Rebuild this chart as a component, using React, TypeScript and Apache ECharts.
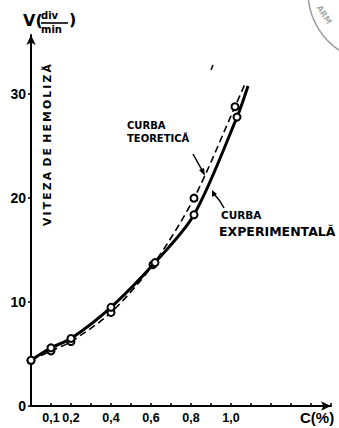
import React, { useEffect, useRef } from "react";
import * as echarts from "echarts";

const experimentalC = [0, 0.1, 0.2, 0.4, 0.62, 0.815, 1.03, 1.085];
const experimentalV = [4.4, 5.6, 6.5, 9.5, 13.8, 18.4, 27.8, 30.8];
const theoreticalC = [0, 0.1, 0.2, 0.4, 0.61, 0.815, 1.02, 1.07];
const theoreticalV = [4.4, 5.3, 6.2, 9.0, 13.6, 20.0, 28.8, 31.0];
const xTickLabels = ["0,1", "0,2", "0,4", "0,6", "0,8", "1,0"];
const xTickValues = [0.1, 0.2, 0.4, 0.6, 0.8, 1.0];
const yTickValues = [0, 10, 20, 30];

const FONT = "'Liberation Sans', Arial, sans-serif";
const WIDE = "'DejaVu Sans', sans-serif";

function buildData(cs: number[], vs: number[]) {
  return cs.map((c, i) =>
    i === cs.length - 1
      ? { value: [c, vs[i]], symbol: "none" }
      : { value: [c, vs[i]] }
  );
}

export default function App() {
  const ref = useRef<HTMLDivElement>(null);
  useEffect(() => {
    document.body.style.margin = "0";
    const chart = echarts.init(ref.current!, null, { renderer: "svg" });
    const txt = (x: number, y: number, t: string, size: number, extra: any = {}) => ({
      type: "text",
      x,
      y,
      style: {
        text: t,
        fontSize: size,
        fontWeight: "bold",
        fontFamily: WIDE,
        fill: "#000",
        ...extra,
      },
    });
    chart.setOption({
      animation: false,
      backgroundColor: "#fff",
      grid: { left: 31, right: 8, top: 35, bottom: 22 },
      xAxis: {
        type: "value",
        min: 0,
        max: 1.5,
        interval: 0.1,
        splitLine: { show: false },
        axisLine: {
          lineStyle: { color: "#000", width: 2 },
          symbol: ["none", "arrow"],
          symbolSize: [7, 10],
        },
        axisTick: { inside: true, length: 3, lineStyle: { color: "#000", width: 1.5 } },
        axisLabel: {
          margin: 5,
          color: "#000",
          fontSize: 12.5,
          fontWeight: "bold",
          fontFamily: FONT,
          formatter: (v: number) => {
            const idx = xTickValues.findIndex((t) => Math.abs(t - v) < 1e-6);
            return idx >= 0 ? xTickLabels[idx] : "";
          },
        },
      },
      yAxis: {
        type: "value",
        min: 0,
        max: 35.7,
        interval: 10,
        splitLine: { show: false },
        axisLine: {
          lineStyle: { color: "#000", width: 2 },
          symbol: ["none", "arrow"],
          symbolSize: [7, 10],
        },
        axisTick: { length: 3, lineStyle: { color: "#000", width: 1.5 } },
        axisLabel: {
          margin: 5,
          color: "#000",
          fontSize: 14,
          fontWeight: "bold",
          fontFamily: FONT,
          showMaxLabel: false,
          formatter: (v: number) =>
            yTickValues.some((t) => Math.abs(t - v) < 1e-6) ? String(v) : "",
        },
      },
      series: [
        {
          name: "Curba teoretică",
          type: "line",
          smooth: 0.3,
          data: buildData(theoreticalC, theoreticalV),
          symbol: "emptyCircle",
          symbolSize: 7,
          lineStyle: { color: "#000", width: 1.6, type: [7, 4] },
          itemStyle: { color: "#000", borderWidth: 1.5 },
          z: 2,
        },
        {
          name: "Curba experimentală",
          type: "line",
          smooth: 0.3,
          data: buildData(experimentalC, experimentalV),
          symbol: "emptyCircle",
          symbolSize: 7,
          lineStyle: { color: "#000", width: 3 },
          itemStyle: { color: "#000", borderWidth: 1.5 },
          z: 3,
        },
      ],
      graphic: [
        // y axis name V(div/min)
        txt(23, 12, "V(", 16),
        txt(41, 10, "div", 10),
        { type: "line", shape: { x1: 41, y1: 23, x2: 68, y2: 23 }, style: { stroke: "#000", lineWidth: 1.6 } },
        txt(41, 24, "min", 10),
        txt(69, 11, ")", 16),
        // rotated axis title
        {
          type: "text",
          x: 42,
          y: 226,
          rotation: Math.PI / 2,
          style: {
            text: "V\u2009I\u2009T\u2009E\u2009Z\u2009A\u2002D\u2009E\u2002H\u2009E\u2009M\u2009O\u2009L\u2009I\u2009Z\u2009Ă",
            fontSize: 10.8,
            fontWeight: "bold",
            fontFamily: WIDE,
            fill: "#000",
          },
        },
        // x axis name
        txt(300, 410, "C(%)", 15, { fontFamily: FONT }),
        // annotations
        txt(127, 120, "CURBA", 10),
        txt(127, 133, "TEORETICĂ", 10),
        { type: "line", shape: { x1: 193, y1: 154, x2: 203, y2: 172 }, style: { stroke: "#000", lineWidth: 1.5 } },
        { type: "polygon", shape: { points: [[205, 176], [199, 170], [204, 168]] }, style: { fill: "#000" } },
        txt(221, 209, "CURBA", 10.5),
        txt(219, 225, "EXPERIMENTALĂ", 12.5),
        {
          type: "bezierCurve",
          shape: { x1: 224, y1: 208, x2: 214, y2: 194, cpx1: 220, cpy1: 200 },
          style: { stroke: "#000", lineWidth: 1.5, fill: "none" },
        },
        { type: "polygon", shape: { points: [[212, 190], [212, 197], [217, 194]] }, style: { fill: "#000" } },
        // small mark
        { type: "line", shape: { x1: 213, y1: 65, x2: 211, y2: 70 }, style: { stroke: "#000", lineWidth: 1.5 } },
        // stamp
        {
          type: "circle",
          shape: { cx: 378, cy: -8, r: 70 },
          style: { stroke: "#9a9a9a", lineWidth: 1.5, fill: "none" },
        },
        {
          type: "text",
          x: 322,
          y: 4,
          rotation: -1.0,
          style: { text: "ARM", fontSize: 8, fontWeight: "bold", fontFamily: WIDE, fill: "#aaa" },
        },
      ],
    });
    return () => chart.dispose();
  }, []);
  return <div ref={ref} style={{ width: 339, height: 428 }} />;
}
